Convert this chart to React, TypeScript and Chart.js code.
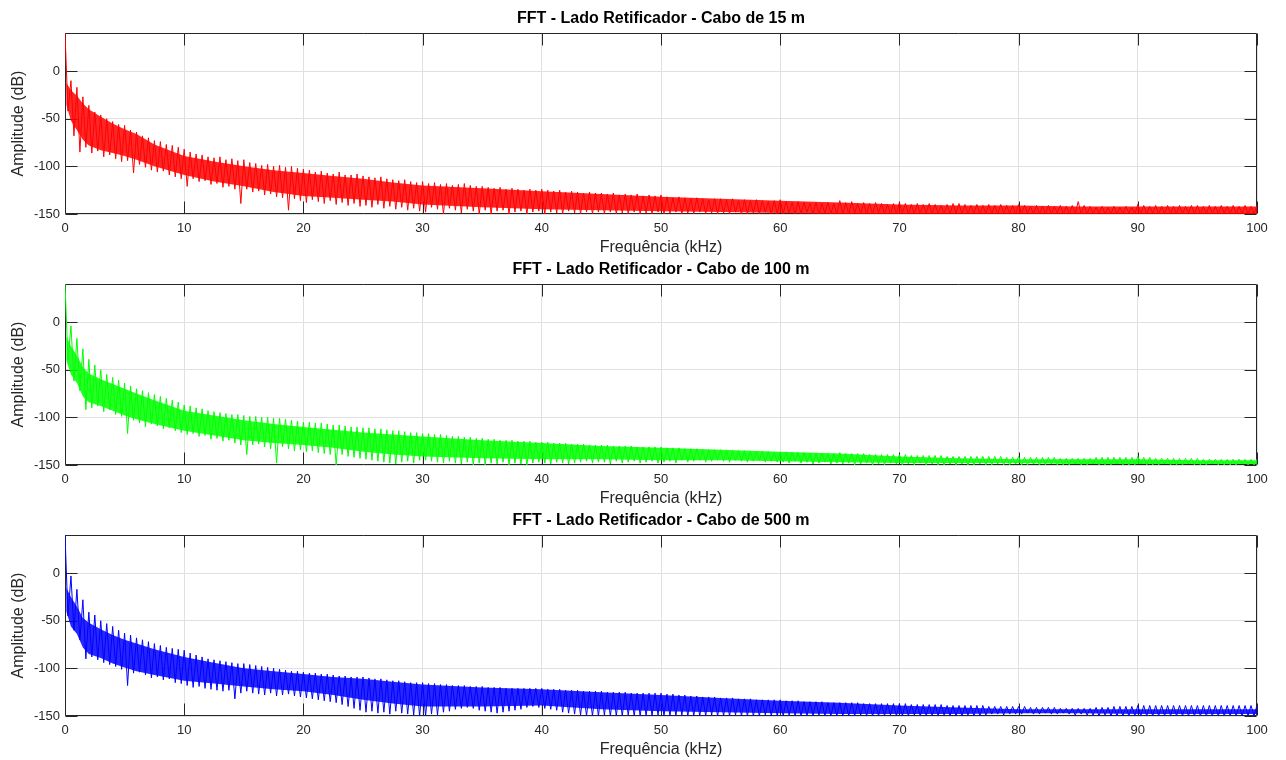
import React, { useEffect, useRef } from "react";
import { Chart, registerables } from "chart.js";

Chart.register(...registerables);

const FONT = "'Liberation Sans', Arial, Helvetica, sans-serif";

const TITLES = [
  "FFT - Lado Retificador - Cabo de 15 m",
  "FFT - Lado Retificador - Cabo de 100 m",
  "FFT - Lado Retificador - Cabo de 500 m",
];
const COLORS = ["#ff0000", "#00ff00", "#0000ff"];
const FILL_COLORS = ["rgba(255,0,0,0.85)", "rgba(0,255,0,0.85)", "rgba(0,0,255,0.85)"];
const X_LABEL = "Frequência (kHz)";
const Y_LABEL = "Amplitude (dB)";
const X_TICKS = [0, 10, 20, 30, 40, 50, 60, 70, 80, 90, 100];
const Y_TICKS = [-150, -100, -50, 0];

// frequency bins (kHz) of the upper (peak) and lower (trough) samples
const PEAK_FREQ = Array.from({ length: 201 }, (_, i) => i * 0.5);
const TROUGH_FREQ = Array.from({ length: 200 }, (_, i) => i * 0.5 + 0.25);

// frequencies (kHz) where the dense core of each spectrum band was read
const BAND_FREQ = [
  0.1, 0.5, 1, 1.5, 2, 3, 4, 5, 6, 7.5, 10, 12.5, 15, 17.5, 20, 22.5, 25, 27.5,
  30, 35, 40, 45, 50, 55, 60, 65, 70, 75, 80, 85, 90, 95, 100,
];

// ---- Cabo de 15 m (red) ----
const PEAKS_15 = [
  40, -10, -17, -27, -36, -43, -46, -50, -53, -56,
  -57, -62, -64, -68, -70, -73, -74, -77, -78, -80,
  -82, -85, -87, -88, -90, -91, -90, -93, -92, -94,
  -93, -96, -97, -99, -98, -100, -99, -101, -100, -102,
  -103, -104, -106, -105, -107, -108, -106, -109, -109, -108,
  -110, -111, -112, -111, -113, -114, -115, -114, -116, -117,
  -116, -118, -117, -119, -118, -120, -119, -118, -120, -121,
  -121, -122, -123, -122, -124, -123, -124, -125, -124, -125,
  -124, -125, -126, -125, -127, -126, -127, -128, -127, -128,
  -128, -129, -128, -130, -129, -130, -129, -131, -130, -131,
  -130, -132, -133, -132, -133, -134, -133, -134, -135, -134,
  -134, -135, -134, -136, -135, -136, -135, -136, -137, -136,
  -135, -137, -138, -137, -138, -139, -138, -139, -138, -139,
  -136, -138, -137, -139, -138, -139, -138, -139, -140, -139,
  -138, -139, -140, -139, -140, -139, -140, -141, -140, -139,
  -139, -140, -141, -140, -141, -140, -141, -140, -141, -141,
  -140, -141, -142, -141, -142, -141, -142, -141, -142, -141,
  -137, -141, -142, -143, -142, -143, -142, -143, -142, -143,
  -140, -141, -142, -141, -142, -141, -142, -141, -142, -141,
  -141, -142, -141, -142, -141, -142, -141, -142, -141, -142,
  -141,
];
const TROUGHS_15 = [
  -42, -68, -85, -80, -86, -84, -90, -88, -92, -95,
  -94, -107, -98, -101, -104, -106, -105, -109, -111, -113,
  -121, -113, -116, -115, -119, -118, -122, -121, -124, -139,
  -124, -127, -126, -130, -129, -132, -133, -146, -134, -136,
  -138, -135, -137, -139, -136, -140, -138, -141, -139, -142,
  -141, -143, -140, -144, -142, -145, -143, -146, -144, -147,
  -148, -143, -145, -150, -144, -146, -149, -145, -147, -150,
  -146, -150, -147, -146, -150, -148, -147, -150, -148, -147,
  -150, -148, -149, -150, -147, -149, -150, -148, -150, -148,
  -150, -148, -150, -149, -150, -148, -150, -149, -150, -148,
  -150, -149, -148, -150, -149, -150, -148, -150, -149, -150,
  -149, -150, -148, -150, -150, -149, -150, -148, -150, -150,
  -150, -149, -150, -150, -148, -150, -150, -149, -150, -150,
  -150, -150, -149, -150, -150, -150, -149, -150, -150, -150,
  -149, -150, -150, -150, -149, -150, -150, -150, -150, -149,
  -150, -150, -149, -150, -150, -150, -150, -149, -150, -150,
  -150, -149, -150, -150, -150, -150, -149, -150, -150, -150,
  -150, -150, -150, -149, -150, -150, -150, -150, -149, -150,
  -150, -150, -149, -150, -150, -150, -150, -150, -149, -150,
  -150, -150, -150, -150, -149, -150, -150, -150, -150, -150,
];
const BAND_TOP_15 = [
  -12, -20, -26, -34, -40, -48, -55, -61, -66, -77, -89, -95, -100, -104, -107,
  -110, -113, -117, -120, -123, -126, -129, -132, -134, -136, -138, -140, -141,
  -141, -142, -142, -142, -142,
];
const BAND_BOTTOM_15 = [
  -35, -52, -62, -72, -78, -83, -86, -89, -93, -100, -109, -116, -121, -127,
  -131, -133, -135, -137, -140, -143, -145, -146, -147, -148, -149, -150, -150,
  -150, -150, -150, -150, -150, -150,
];

// ---- Cabo de 100 m (green) ----
const PEAKS_100 = [
  40, -4, -17, -28, -39, -45, -50, -55, -58, -61,
  -64, -67, -70, -72, -74, -76, -78, -80, -82, -84,
  -87, -88, -90, -91, -93, -94, -95, -96, -97, -97,
  -98, -99, -99, -100, -100, -101, -101, -102, -103, -104,
  -105, -105, -106, -106, -107, -108, -108, -109, -110, -110,
  -111, -111, -112, -112, -113, -114, -114, -115, -116, -116,
  -117, -117, -118, -118, -119, -120, -120, -121, -121, -122,
  -122, -123, -123, -124, -124, -124, -125, -125, -125, -126,
  -126, -126, -127, -127, -127, -128, -128, -128, -129, -129,
  -129, -129, -130, -130, -130, -130, -131, -131, -131, -131,
  -131, -132, -132, -132, -133, -133, -133, -134, -134, -134,
  -134, -135, -135, -135, -135, -136, -136, -136, -136, -137,
  -137, -137, -137, -137, -137, -138, -138, -138, -138, -138,
  -137, -138, -138, -138, -138, -139, -139, -139, -139, -139,
  -139, -139, -140, -140, -140, -140, -140, -140, -141, -141,
  -141, -141, -141, -141, -141, -141, -141, -141, -142, -142,
  -141, -142, -142, -142, -142, -142, -142, -143, -143, -143,
  -143, -143, -143, -142, -142, -142, -142, -142, -142, -142,
  -141, -142, -142, -143, -143, -143, -143, -143, -143, -143,
  -143, -144, -144, -144, -144, -144, -144, -144, -144, -144,
  -144,
];
const TROUGHS_100 = [
  -40, -62, -72, -92, -90, -88, -94, -92, -97, -99,
  -117, -103, -106, -110, -107, -109, -112, -111, -114, -116,
  -118, -117, -120, -119, -123, -122, -125, -124, -127, -129,
  -139, -129, -128, -131, -133, -148, -131, -133, -135, -134,
  -136, -135, -137, -138, -139, -150, -139, -141, -142, -143,
  -144, -145, -146, -147, -148, -149, -147, -146, -148, -145,
  -145, -146, -147, -148, -146, -148, -149, -147, -150, -148,
  -150, -148, -149, -147, -150, -148, -149, -150, -148, -147,
  -148, -149, -147, -148, -149, -148, -147, -146, -148, -147,
  -147, -149, -146, -148, -147, -146, -148, -147, -146, -148,
  -147, -146, -148, -145, -147, -146, -145, -147, -146, -145,
  -146, -147, -145, -146, -147, -146, -145, -147, -146, -147,
  -147, -148, -146, -148, -147, -149, -148, -147, -149, -148,
  -149, -148, -150, -149, -148, -150, -149, -150, -148, -149,
  -150, -149, -150, -148, -150, -149, -150, -150, -149, -150,
  -149, -150, -150, -149, -150, -150, -149, -150, -150, -149,
  -150, -150, -149, -150, -150, -149, -150, -150, -150, -149,
  -150, -150, -149, -150, -150, -150, -149, -150, -150, -150,
  -149, -150, -150, -150, -149, -150, -150, -150, -149, -150,
  -150, -150, -149, -150, -150, -150, -150, -149, -150, -150,
];
const BAND_TOP_100 = [
  -15, -25, -35, -47, -54, -60, -65, -70, -75, -82, -93, -98, -103, -107, -110,
  -113, -116, -118, -120, -124, -127, -130, -132, -134, -136, -138, -141, -143,
  -144, -144, -144, -145, -145,
];
const BAND_BOTTOM_100 = [
  -40, -55, -64, -78, -84, -88, -93, -98, -102, -107, -114, -119, -124, -127,
  -129, -132, -136, -139, -141, -143, -144, -144, -145, -145, -146, -147, -148,
  -148, -148, -149, -149, -149, -149,
];

// ---- Cabo de 500 m (blue) ----
const PEAKS_500 = [
  40, -3, -17, -28, -41, -44, -50, -53, -56, -60,
  -63, -65, -68, -70, -72, -74, -76, -78, -79, -80,
  -81, -84, -86, -88, -90, -91, -92, -93, -94, -95,
  -95, -96, -97, -98, -99, -100, -101, -102, -103, -103,
  -104, -105, -105, -106, -106, -107, -108, -108, -109, -109,
  -109, -110, -111, -111, -112, -113, -113, -114, -115, -115,
  -115, -116, -116, -117, -117, -118, -118, -118, -119, -119,
  -119, -120, -120, -120, -121, -121, -121, -121, -121, -121,
  -121, -122, -122, -122, -123, -123, -123, -124, -124, -124,
  -124, -125, -125, -125, -125, -126, -126, -126, -126, -126,
  -126, -127, -127, -128, -128, -129, -129, -130, -130, -130,
  -131, -131, -131, -132, -132, -132, -133, -133, -133, -133,
  -133, -134, -134, -134, -135, -135, -135, -135, -136, -136,
  -136, -136, -136, -136, -137, -137, -137, -137, -137, -137,
  -137, -137, -138, -138, -138, -138, -138, -138, -139, -139,
  -139, -139, -139, -139, -139, -140, -140, -140, -140, -140,
  -140, -140, -141, -141, -141, -141, -141, -142, -142, -142,
  -142, -142, -142, -141, -141, -141, -140, -140, -140, -140,
  -139, -139, -139, -139, -139, -139, -139, -139, -139, -139,
  -139, -139, -139, -139, -139, -139, -139, -139, -139, -139,
  -139,
];
const TROUGHS_500 = [
  -45, -60, -70, -90, -88, -91, -94, -96, -98, -101,
  -118, -105, -104, -107, -110, -109, -112, -111, -115, -116,
  -118, -120, -119, -121, -122, -123, -124, -123, -132, -126,
  -124, -126, -127, -128, -126, -129, -128, -127, -129, -130,
  -131, -132, -133, -134, -135, -136, -138, -140, -142, -144,
  -146, -145, -147, -146, -148, -145, -147, -148, -149, -150,
  -150, -148, -149, -146, -145, -143, -142, -141, -142, -144,
  -145, -146, -147, -146, -145, -144, -143, -141, -140, -141,
  -142, -143, -144, -146, -147, -148, -149, -150, -150, -150,
  -149, -150, -150, -150, -149, -150, -150, -150, -150, -149,
  -150, -150, -150, -149, -150, -150, -150, -150, -149, -150,
  -150, -150, -149, -150, -150, -150, -150, -149, -150, -150,
  -150, -149, -150, -150, -150, -150, -149, -150, -150, -150,
  -150, -150, -150, -149, -150, -150, -150, -150, -149, -150,
  -150, -150, -149, -150, -150, -150, -150, -149, -150, -150,
  -150, -149, -150, -150, -149, -148, -148, -149, -148, -148,
  -148, -147, -148, -148, -147, -148, -148, -147, -148, -149,
  -148, -149, -149, -150, -149, -150, -150, -150, -150, -150,
  -150, -150, -150, -150, -150, -150, -150, -150, -150, -150,
  -150, -150, -150, -150, -150, -150, -150, -150, -150, -150,
];
const BAND_TOP_500 = [
  -15, -25, -35, -47, -52, -59, -65, -70, -74, -80, -88, -94, -100, -103, -106,
  -109, -111, -114, -117, -120, -122, -125, -128, -131, -134, -136, -139, -141,
  -143, -143, -143, -143, -143,
];
const BAND_BOTTOM_500 = [
  -40, -56, -64, -78, -85, -89, -95, -99, -103, -107, -113, -116, -119, -122,
  -124, -128, -133, -137, -140, -140, -139, -143, -145, -146, -147, -148, -148,
  -148, -147, -147, -148, -148, -148,
];

const SERIES = [
  { peaks: PEAKS_15, troughs: TROUGHS_15, bandTop: BAND_TOP_15, bandBottom: BAND_BOTTOM_15 },
  { peaks: PEAKS_100, troughs: TROUGHS_100, bandTop: BAND_TOP_100, bandBottom: BAND_BOTTOM_100 },
  { peaks: PEAKS_500, troughs: TROUGHS_500, bandTop: BAND_TOP_500, bandBottom: BAND_BOTTOM_500 },
];

function buildPoints(peaks: number[], troughs: number[]) {
  const pts: { x: number; y: number }[] = [];
  for (let i = 0; i < PEAK_FREQ.length; i++) {
    pts.push({ x: PEAK_FREQ[i], y: peaks[i] });
    if (i < TROUGH_FREQ.length) pts.push({ x: TROUGH_FREQ[i], y: troughs[i] });
  }
  return pts;
}

function bandPoints(values: number[]) {
  return BAND_FREQ.map((f, i) => ({ x: f, y: values[i] }));
}

const AXIS_COLOR = "#262626";
const TICK_LEN = 12;

const framePlugin = {
  id: "matlabFrame",
  beforeDatasetsDraw(chart: any) {
    const { ctx, chartArea } = chart;
    const xs = chart.scales.x;
    const ys = chart.scales.y;
    const l = Math.round(chartArea.left) + 0.5;
    const r = Math.round(chartArea.right) - 0.5;
    const t = Math.round(chartArea.top) + 0.5;
    const b = Math.round(chartArea.bottom) - 0.5;
    ctx.save();
    ctx.strokeStyle = AXIS_COLOR;
    ctx.lineWidth = 1;
    ctx.beginPath();
    for (const v of X_TICKS) {
      const px = Math.round(xs.getPixelForValue(v)) + 0.5;
      ctx.moveTo(px, b);
      ctx.lineTo(px, b - TICK_LEN);
      ctx.moveTo(px, t);
      ctx.lineTo(px, t + TICK_LEN);
    }
    for (const v of Y_TICKS) {
      const py = Math.round(ys.getPixelForValue(v)) + 0.5;
      ctx.moveTo(l, py);
      ctx.lineTo(l + TICK_LEN, py);
      ctx.moveTo(r, py);
      ctx.lineTo(r - TICK_LEN, py);
    }
    ctx.stroke();
    ctx.beginPath();
    ctx.rect(l, t, r - l, b - t);
    ctx.stroke();
    ctx.restore();
  },
};

const CANVAS_W = 1286;
const CANVAS_H = 258;
const CANVAS_TOPS = [0, 251, 502];

function Panel({ index }: { index: number }) {
  const ref = useRef<HTMLCanvasElement | null>(null);
  useEffect(() => {
    if (!ref.current) return;
    const s = SERIES[index];
    const color = COLORS[index];
    const chart = new Chart(ref.current, {
      type: "line",
      data: {
        datasets: [
          {
            data: bandPoints(s.bandTop),
            borderColor: "rgba(0,0,0,0)",
            borderWidth: 0,
            backgroundColor: FILL_COLORS[index],
            pointRadius: 0,
            tension: 0,
            fill: "+1",
            order: 3,
          },
          {
            data: bandPoints(s.bandBottom),
            borderColor: "rgba(0,0,0,0)",
            borderWidth: 0,
            pointRadius: 0,
            tension: 0,
            fill: false,
            order: 2,
          },
          {
            data: buildPoints(s.peaks, s.troughs),
            borderColor: color,
            borderWidth: 1,
            pointRadius: 0,
            tension: 0,
            fill: false,
            order: 1,
          },
        ],
      },
      options: {
        animation: false,
        responsive: false,
        devicePixelRatio: 1,
        parsing: false as any,
        normalized: true,
        events: [],
        layout: { padding: { left: 0, right: 29, top: 0, bottom: 0 } },
        plugins: {
          legend: { display: false },
          tooltip: { enabled: false },
          title: {
            display: true,
            fullSize: false,
            text: TITLES[index],
            color: "#000000",
            font: { family: FONT, size: 16, weight: "bold" },
            padding: { top: 9, bottom: 4.8 },
          },
        },
        scales: {
          x: {
            type: "linear",
            min: 0,
            max: 100,
            afterFit: (sc: any) => {
              sc.height = 44;
            },
            afterBuildTicks: (sc: any) => {
              sc.ticks = X_TICKS.map((v) => ({ value: v }));
            },
            grid: { color: "#e0e0e0", lineWidth: 1, drawTicks: false },
            border: { display: false },
            ticks: {
              color: AXIS_COLOR,
              font: { family: FONT, size: 13 },
              padding: 7,
              maxRotation: 0,
              autoSkip: false,
            },
            title: {
              display: true,
              text: X_LABEL,
              color: AXIS_COLOR,
              font: { family: FONT, size: 16 },
              padding: { top: 0, bottom: 1 },
            },
          },
          y: {
            type: "linear",
            min: -150,
            max: 40,
            afterFit: (sc: any) => {
              sc.width = 65;
            },
            afterBuildTicks: (sc: any) => {
              sc.ticks = Y_TICKS.map((v) => ({ value: v }));
            },
            grid: { color: "#e0e0e0", lineWidth: 1, drawTicks: false },
            border: { display: false },
            ticks: {
              color: AXIS_COLOR,
              font: { family: FONT, size: 13 },
              padding: 5,
            },
            title: {
              display: true,
              text: Y_LABEL,
              color: AXIS_COLOR,
              font: { family: FONT, size: 16 },
              padding: { top: 9, bottom: 0 },
            },
          },
        },
      },
      plugins: [framePlugin],
    });
    return () => chart.destroy();
  }, [index]);
  return (
    <canvas
      ref={ref}
      width={CANVAS_W}
      height={CANVAS_H}
      style={{
        position: "absolute",
        left: 0,
        top: CANVAS_TOPS[index],
        width: CANVAS_W,
        height: CANVAS_H,
      }}
    />
  );
}

export default function App() {
  return (
    <div
      style={{
        position: "fixed",
        left: 0,
        top: 0,
        width: 1286,
        height: 760,
        background: "#ffffff",
        overflow: "hidden",
      }}
    >
      <Panel index={0} />
      <Panel index={1} />
      <Panel index={2} />
    </div>
  );
}
